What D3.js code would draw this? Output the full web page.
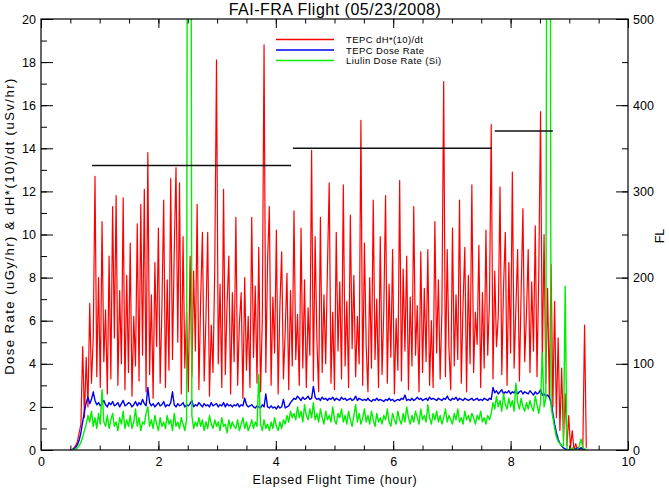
<!DOCTYPE html>
<html><head><meta charset="utf-8">
<script src="https://cdn.jsdelivr.net/npm/d3@7"></script>
<style>
html,body{margin:0;padding:0;background:#fff;}
svg{display:block;font-family:"Liberation Sans",Arial,sans-serif;}
</style></head>
<body><svg id="c" width="669" height="488"></svg>
<script>
// ---- data ----
const sampleStartHour = 0.5;
const sampleStepHour = 0.03;

const tepcDoseEq = [
0,0,0.1,0.2,0.4,0.8,1.2,4.8,1.5,4.3,
2.0,6.8,3.1,5.2,12.7,3.4,8.0,2.9,10.6,4.1,
6.5,2.6,9.0,3.3,11.3,5.2,11.8,3.0,7.4,4.0,
11.7,2.8,8.1,3.6,9.6,2.5,6.2,3.9,10.5,3.2,
11.4,4.4,12.1,2.7,13.8,3.5,7.2,2.4,8.7,4.8,
10.3,3.1,6.6,11.6,2.9,7.9,3.7,12.6,4.2,9.3,
13.1,5.0,12.4,2.6,9.9,3.8,6.4,2.7,9.0,3.4,
8.3,4.6,11.4,2.8,7.0,10.1,3.2,6.1,10.1,2.5,
5.8,3.6,8.4,18.1,4.0,7.7,2.9,12.1,3.5,6.8,
9.0,2.6,7.3,4.1,10.8,3.0,5.9,7.3,2.4,8.0,
3.7,6.2,2.9,10.8,4.3,7.6,3.1,9.4,2.7,6.0,
18.8,3.6,8.8,11.3,3.0,7.1,4.5,10.2,2.6,6.7,
9.2,3.3,5.5,8.2,2.8,7.4,3.9,11.1,4.2,6.3,
3.0,10.3,3.8,7.9,2.9,6.6,4.4,13.9,3.2,9.9,
5.1,2.7,10.8,3.6,7.2,4.0,8.5,12.4,3.1,6.4,
2.8,10.1,4.6,7.8,3.3,12.3,3.9,6.9,2.9,10.9,
4.7,8.1,3.4,6.2,4.0,15.3,3.0,9.6,4.8,2.7,
8.0,3.8,11.6,4.2,7.0,2.9,9.9,3.5,6.5,11.8,
3.1,7.7,4.3,9.3,2.6,6.1,3.7,12.5,3.2,8.4,
4.6,9.0,2.8,7.1,3.9,11.3,4.4,6.7,2.7,9.2,
3.6,7.5,4.1,9.3,3.0,6.0,2.9,10.6,4.5,7.9,
3.3,6.5,17.1,3.4,9.3,4.7,2.8,10.3,3.9,7.2,
4.2,11.6,3.1,6.8,9.4,2.7,8.1,4.0,12.3,3.6,
6.4,4.9,9.5,2.9,7.3,3.8,10.2,4.4,6.9,15.1,
3.3,8.3,4.8,6.2,12.2,3.5,7.6,10.1,3.0,8.7,
4.5,12.9,3.8,6.6,9.3,3.2,7.4,11.2,4.1,6.3,
9.3,3.6,7.8,4.6,10.4,3.4,8.2,15.7,4.0,10.0,
3.1,7.5,2.5,8.6,2.0,6.9,1.5,5.2,0.9,3.8,
0.5,2.6,0.2,1.6,0.1,0.9,0,0.3,0,0,
0.1,0,5.8,0.1
];

const tepcDoseRate = [
0,0.02,0.05,0.12,0.25,0.45,0.8,1.3,1.8,2.2,2.45,2.15,2.35,2.7,
2.3,2.1,2.2,2.05,2.15,2.3,2.1,2.0,2.2,2.1,
2.25,2.05,2.1,2.2,2.0,2.15,2.3,2.05,2.1,2.2,
2.15,2.0,2.1,2.25,2.05,2.2,2.1,2.35,2.15,2.05,
2.9,2.2,2.05,2.15,2.0,2.1,2.2,2.05,2.1,2.25,
2.0,2.1,2.05,2.2,2.7,2.1,2.0,2.15,2.05,2.1,
2.2,2.0,2.1,2.05,2.15,2.3,2.0,2.1,2.05,2.2,
2.1,2.0,2.15,2.05,2.1,2.0,2.2,2.05,2.1,2.15,
2.0,2.1,2.05,2.2,2.0,2.15,2.05,2.1,2.0,2.1,
2.05,2.15,2.0,2.1,2.05,2.4,2.1,2.0,2.05,2.1,
2.0,1.95,2.05,2.0,1.95,2.1,2.0,2.6,2.0,1.95,
2.05,1.95,2.0,1.9,2.05,1.95,2.0,2.35,1.95,2.0,
2.05,2.2,2.3,
2.4,2.35,2.5,2.4,2.3,2.45,2.35,2.4,2.5,2.35,
2.4,2.95,2.45,2.35,2.4,2.3,2.45,2.35,2.4,2.3,
2.4,2.35,2.45,2.3,2.4,2.35,2.3,2.45,2.35,2.4,
2.3,2.35,2.4,2.3,2.35,2.5,2.3,2.4,2.35,2.3,
2.35,2.3,2.4,2.3,2.25,2.35,2.3,2.4,2.3,2.35,
2.3,2.25,2.35,2.3,2.4,2.3,2.35,2.25,2.3,2.35,
2.3,2.4,2.35,2.55,2.3,2.35,2.3,2.4,2.3,2.35,
2.45,2.35,2.4,2.3,2.35,2.4,2.3,2.45,2.35,2.4,
2.35,2.3,2.4,2.35,2.3,2.4,2.35,2.5,2.35,2.3,
2.4,2.35,2.45,2.3,2.4,2.35,2.3,2.4,2.35,2.3,
2.35,2.4,2.3,2.35,2.4,2.3,2.35,2.3,2.4,2.35,
2.3,2.4,2.35,
2.9,2.65,2.75,2.6,2.7,2.8,2.6,2.7,2.65,2.75,
2.6,2.7,2.65,2.8,2.6,2.7,2.75,2.6,2.7,2.65,
2.6,2.75,2.65,2.55,2.7,2.6,2.65,2.8,2.55,2.6,
2.5,2.55,2.45,
2.2,1.7,1.2,0.8,0.5,0.3,0.2,0.1,0.05,0.02,
0,0,0,0,0.05,0.1,0.05,0.1,0.05,0.02,0
];

const liulinDoseRate = [
0,0,0.02,0.05,0.1,0.2,0.35,0.6,0.9,1.2,1.6,1.3,1.8,1.1,
1.5,1.0,1.7,1.2,2.8,1.3,1.1,1.6,1.0,1.4,
1.7,1.1,1.3,0.9,1.5,1.2,1.8,1.0,1.4,1.1,
1.6,1.0,1.3,1.9,1.1,1.5,0.9,1.3,1.2,1.7,
2.0,1.1,1.4,1.0,1.6,1.2,0.9,1.5,1.1,1.3,
1.0,1.6,1.2,1.4,0.9,1.7,1.1,1.3,1.0,1.5,
1.2,0.9,1.4,60,55,1.6,1.0,1.3,1.1,1.5,
1.1,1.4,0.9,1.3,1.0,1.6,1.2,1.0,1.4,1.1,
1.3,0.9,1.5,1.1,1.2,0.8,1.4,1.0,1.3,1.1,
1.0,1.4,0.9,1.2,1.5,1.0,1.3,0.9,1.1,1.4,
1.0,1.3,1.1,3.5,1.2,0.9,1.4,1.0,1.2,0.9,
1.3,1.0,1.5,1.1,0.9,1.3,1.0,1.4,1.2,1.6,
1.3,1.8,1.5,
1.7,1.4,2.0,1.5,1.8,1.3,2.1,1.6,1.4,1.9,
1.5,2.2,1.4,1.7,1.3,1.9,1.5,1.2,1.8,1.4,
1.6,1.3,2.0,1.4,1.2,1.7,1.5,1.9,1.3,1.6,
1.2,1.8,1.4,1.1,1.6,2.1,1.3,1.7,1.2,1.5,
1.9,1.3,1.6,1.2,1.8,1.4,1.1,1.7,1.3,1.5,
1.2,1.6,1.4,1.9,1.3,1.1,1.7,1.4,1.2,1.8,
1.4,1.2,1.7,1.3,2.0,1.5,1.2,1.6,1.3,1.8,
1.5,1.2,1.9,1.4,1.6,1.3,2.1,1.5,1.2,1.7,
1.4,1.8,1.3,1.6,1.2,1.5,1.9,1.3,1.6,1.4,
1.2,1.7,1.4,1.9,1.3,1.5,1.2,1.8,1.4,1.6,
1.3,1.7,1.5,1.2,1.6,1.4,1.8,1.3,1.5,1.2,
1.6,1.4,1.7,
2.2,1.9,2.5,2.0,2.3,1.8,2.6,2.1,1.9,2.4,
2.0,2.3,1.8,3.1,2.2,1.9,2.4,2.0,1.8,2.2,
1.9,2.3,2.0,1.8,2.5,2.1,1.7,2.2,4.5,2.0,
2.4,45,50,
2.0,1.5,1.0,0.6,0.4,0.3,0.2,0.2,7.6,0.05,
0,0,0.1,0,0,0,0.2,0.5,0.1,0.05,0
];

// flight level (cruise segments)
const flStartHour = [0.87, 4.29, 7.73];
const flEndHour   = [4.26, 7.68, 8.72];
const flLevel     = [330, 350, 370];

const legendLabels = ["TEPC dH*(10)/dt", "TEPC Dose Rate", "Liulin Dose Rate (Si)"];
const seriesColors = ["#ff0000", "#0000ee", "#00ee00"];

// ---- layout ----
const L = 41, R = 628, T = 19, B = 450;
const svg = d3.select("#c");
const x = d3.scaleLinear().domain([0, 10]).range([L, R]);
const y = d3.scaleLinear().domain([0, 20]).range([B, T]);
const yFL = d3.scaleLinear().domain([0, 500]).range([B, T]);

svg.append("defs").append("clipPath").attr("id","pc")
  .append("rect").attr("x", L).attr("y", T).attr("width", R-L).attr("height", B-T);

const toPts = arr => arr.map((v,i)=>[sampleStartHour + i*sampleStepHour, v]);
const line = d3.line().x(d=>x(d[0])).y(d=>y(d[1]));

const g = svg.append("g").attr("clip-path","url(#pc)");
[tepcDoseEq, tepcDoseRate, liulinDoseRate].forEach((s,k)=>{
  g.append("path").attr("d", line(toPts(s))).attr("fill","none")
   .attr("stroke", seriesColors[k]).attr("stroke-width", k===0?1.2:1.4)
   .attr("stroke-linejoin","round");
});

// FL segments
g.selectAll(".fl").data(flLevel).enter().append("line")
  .attr("x1",(d,i)=>x(flStartHour[i])).attr("x2",(d,i)=>x(flEndHour[i]))
  .attr("y1",d=>yFL(d)).attr("y2",d=>yFL(d))
  .attr("stroke","#111").attr("stroke-width",1.4);

// ---- axes ----
function styleAxis(sel){
  sel.select(".domain").remove();
  sel.selectAll("line").attr("stroke","#000").attr("stroke-width",1);
  sel.selectAll("text").attr("fill","#000").attr("font-size","12.5px");
}
const xMaj = [0,2,4,6,8,10], xMin = d3.range(0,10.01,0.5);
svg.append("g").attr("transform",`translate(0,${B})`)
  .call(d3.axisBottom(x).tickValues(xMin).tickSize(-4.5).tickFormat("")).call(styleAxis);
svg.append("g").attr("transform",`translate(0,${B})`)
  .call(d3.axisBottom(x).tickValues(xMaj).tickSize(-9).tickPadding(7).tickFormat(d3.format("d"))).call(styleAxis);
svg.append("g").attr("transform",`translate(0,${T})`)
  .call(d3.axisTop(x).tickValues(xMin).tickSize(-4.5).tickFormat("")).call(styleAxis);
svg.append("g").attr("transform",`translate(0,${T})`)
  .call(d3.axisTop(x).tickValues(xMaj).tickSize(-9).tickFormat("")).call(styleAxis);

const yMaj = d3.range(0,20.01,2), yMin = d3.range(0,20.01,1);
svg.append("g").attr("transform",`translate(${L},0)`)
  .call(d3.axisLeft(y).tickValues(yMin).tickSize(-6).tickFormat("")).call(styleAxis);
svg.append("g").attr("transform",`translate(${L},0)`)
  .call(d3.axisLeft(y).tickValues(yMaj).tickSize(-12).tickPadding(5).tickFormat(d3.format("d"))).call(styleAxis);

const flMaj = d3.range(0,501,100), flMin = d3.range(0,501,50);
svg.append("g").attr("transform",`translate(${R},0)`)
  .call(d3.axisRight(yFL).tickValues(flMin).tickSize(-6).tickFormat("")).call(styleAxis);
svg.append("g").attr("transform",`translate(${R},0)`)
  .call(d3.axisRight(yFL).tickValues(flMaj).tickSize(-12).tickPadding(5).tickFormat(d3.format("d"))).call(styleAxis);

// frame
svg.append("rect").attr("x",L).attr("y",T).attr("width",R-L).attr("height",B-T)
  .attr("fill","none").attr("stroke","#000").attr("stroke-width",1.2);

// ---- texts ----
svg.append("text").attr("x",335).attr("y",15).attr("text-anchor","middle")
  .attr("font-size","16px").attr("letter-spacing","0.5px").text("FAI-FRA Flight (05/23/2008)");
svg.append("text").attr("x",335).attr("y",484).attr("text-anchor","middle")
  .attr("font-size","12.5px").attr("letter-spacing","0.7px").text("Elapsed Flight Time (hour)");
svg.append("text").attr("transform","translate(14,226) rotate(-90)").attr("text-anchor","middle")
  .attr("font-size","13px").attr("letter-spacing","1.5px").text("Dose Rate (uGy/hr) & dH*(10)/dt (uSv/hr)");
svg.append("text").attr("transform","translate(664,236) rotate(-90)").attr("text-anchor","middle")
  .attr("font-size","12.5px").text("FL");

// legend
const lg = svg.append("g");
legendLabels.forEach((t,i)=>{
  const yy = 39.5 + i*10.5;
  lg.append("line").attr("x1",276).attr("x2",334).attr("y1",yy).attr("y2",yy)
    .attr("stroke",seriesColors[i]).attr("stroke-width",1.5);
  lg.append("text").attr("x",346).attr("y",yy+3.5).attr("font-size","9.5px")
    .attr("letter-spacing","0.4px").text(t);
});
</script></body></html>
